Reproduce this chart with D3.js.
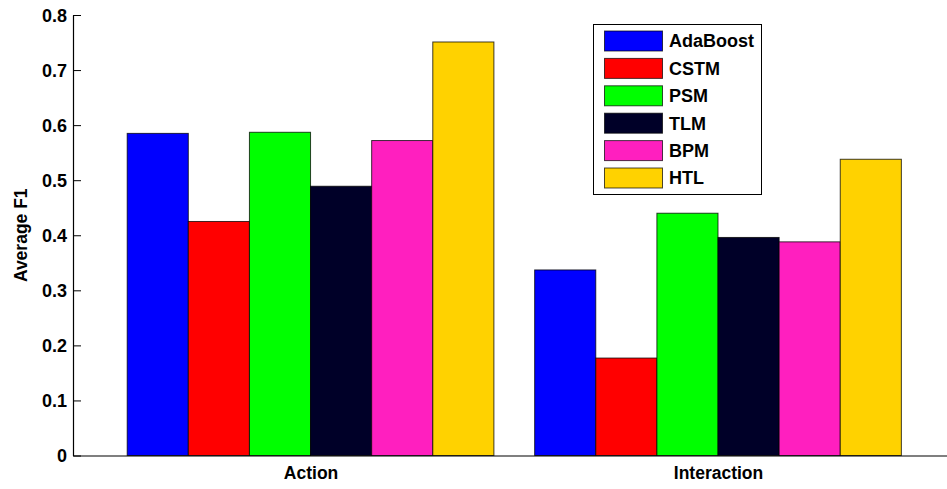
<!DOCTYPE html>
<html>
<head>
<meta charset="utf-8">
<script src="https://cdn.jsdelivr.net/npm/d3@7"></script>
<style>
  html, body { margin: 0; padding: 0; background: #fff; }
  svg text { font-family: "Liberation Sans", Arial, Helvetica, sans-serif; font-weight: bold; fill: #000; }
</style>
</head>
<body>
<svg id="chart" width="947" height="489"></svg>
<script>
// Average F1 per method for each task
const categories = ["Action", "Interaction"];
const methods = ["AdaBoost", "CSTM", "PSM", "TLM", "BPM", "HTL"];
const colors = ["#0000ff", "#ff0000", "#00ff00", "#000028", "#ff1fbf", "#ffd200"];
const valuesAction = [0.585, 0.425, 0.587, 0.489, 0.572, 0.751];
const valuesInteraction = [0.337, 0.177, 0.440, 0.396, 0.388, 0.538];
const yTicks = [0, 0.1, 0.2, 0.3, 0.4, 0.5, 0.6, 0.7, 0.8];

const seriesByCategory = [valuesAction, valuesInteraction];

const svg = d3.select("#chart");
const plotLeft = 73, plotRight = 947, plotTop = 15, plotBottom = 455.5;

// category index -> x position (categories sit at 1 and 2)
const x = d3.scaleLinear().domain([0.417, 2.562]).range([plotLeft, plotRight]);
const y = d3.scaleLinear().domain([0, 0.8]).range([plotBottom, plotTop]);
const barW = 0.15;            // width of one bar in category units
const groupW = barW * methods.length;

// bars
const g = svg.append("g");
categories.forEach((cat, ci) => {
  const c = ci + 1;
  seriesByCategory[ci].forEach((v, mi) => {
    const x0 = x(c - groupW / 2 + mi * barW);
    const x1 = x(c - groupW / 2 + (mi + 1) * barW);
    g.append("rect")
      .attr("x", x0)
      .attr("y", y(v))
      .attr("width", x1 - x0)
      .attr("height", y(0) - y(v))
      .attr("fill", colors[mi])
      .attr("stroke", "rgba(0,0,0,0.75)")
      .attr("stroke-width", 1);
  });
});

// y axis with inward ticks
const yAxis = d3.axisLeft(y).tickValues(yTicks).tickFormat(d => d === 0 ? "0" : d3.format(".1f")(d))
  .tickSizeInner(-8).tickSizeOuter(0).tickPadding(6);
const ya = svg.append("g").attr("transform", `translate(${plotLeft},0)`).call(yAxis);
ya.select(".domain").attr("stroke", "#000").attr("stroke-width", 1.2);
ya.selectAll(".tick line").attr("stroke", "#000");
ya.selectAll(".tick text").attr("x", -6).style("font-size", "18px").style("font-family", "Liberation Sans, Arial, sans-serif").style("font-weight", "bold").attr("dy", "0.36em");

// x axis (baseline and category labels)
const xAxis = d3.axisBottom(x).tickValues([1, 2]).tickFormat((d) => categories[d - 1])
  .tickSize(0).tickPadding(11);
const xa = svg.append("g").attr("transform", `translate(0,${plotBottom})`).call(xAxis);
xa.select(".domain").attr("stroke", "#000").attr("stroke-width", 1.2);
xa.selectAll(".tick text").style("font-size", "17.5px").style("font-family", "Liberation Sans, Arial, sans-serif").style("font-weight", "bold");

// y axis title
svg.append("text")
  .attr("transform", `translate(26.5,${(plotTop + plotBottom) / 2}) rotate(-90)`)
  .attr("text-anchor", "middle")
  .style("font-size", "17.5px")
  .text("Average F1");

// legend
const lg = svg.append("g");
lg.append("rect").attr("x", 593.5).attr("y", 24.5).attr("width", 168).attr("height", 170)
  .attr("fill", "#fff").attr("stroke", "#000").attr("stroke-width", 1);
methods.forEach((m, i) => {
  const yy = 31 + i * 27.4;
  lg.append("rect").attr("x", 604.5).attr("y", yy).attr("width", 58).attr("height", 20)
    .attr("fill", colors[i]).attr("stroke", "rgba(0,0,0,0.7)").attr("stroke-width", 1);
  lg.append("text").attr("x", 669).attr("y", yy + 10).attr("dy", "0.36em")
    .style("font-size", "18px").text(m);
});
</script>
</body>
</html>
